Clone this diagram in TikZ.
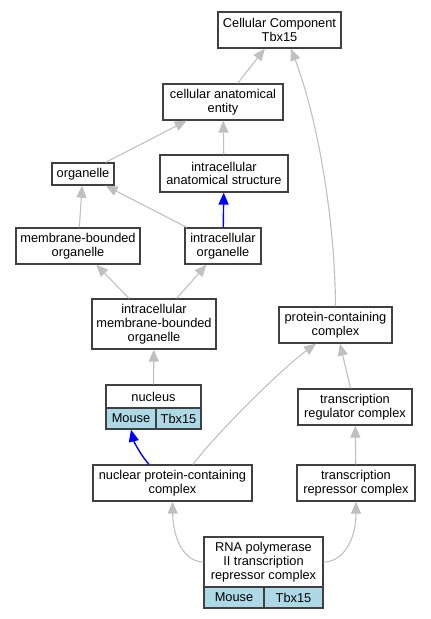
\documentclass[tikz,border=0pt]{standalone}
\usepackage{fontspec}
\setmainfont{Liberation Sans}
\usepackage{xcolor}
\usetikzlibrary{arrows.meta}
\definecolor{lightblue}{HTML}{ADD8E6}
\definecolor{isagray}{HTML}{C0C0C0}

\begin{document}
\begin{tikzpicture}[x=1pt,y=-1pt,
  term/.style={rectangle,draw=black!75,line width=1.3pt,fill=white,inner sep=0pt,align=center,font=\fontsize{12.8}{13.8}\selectfont},
  cell/.style={term,fill=lightblue,minimum height=21pt},
  isa/.style={draw=isagray,line width=1.1pt,-{Triangle[length=12pt,width=10pt]}},
  partof/.style={draw=blue,line width=1.4pt,-{Triangle[length=12pt,width=10pt]}}]
  \useasboundingbox (0,0) rectangle (431,619);

  \node[term,minimum width=123pt,minimum height=36pt] (cc)   at (279.5,30)  {Cellular Component\\Tbx15};
  \node[term,minimum width=120pt,minimum height=36pt] (cae)  at (223,102)   {cellular anatomical\\entity};
  \node[term,minimum width=62pt,minimum height=22pt]  (org)  at (83,174)    {organelle};
  \node[term,minimum width=128pt,minimum height=37pt] (ias)  at (224,173.5) {intracellular\\anatomical structure};
  \node[term,minimum width=124pt,minimum height=36pt] (mbo)  at (78,246)    {membrane-bounded\\organelle};
  \node[term,minimum width=76pt,minimum height=36pt]  (io)   at (223,246)   {intracellular\\organelle};
  \node[term,minimum width=124pt,minimum height=50pt] (imbo) at (154,324)   {intracellular\\membrane-bounded\\organelle};
  \node[term,minimum width=113pt,minimum height=36pt] (pcc)  at (335.5,325) {protein-containing\\complex};
  \node[term,minimum width=95pt,minimum height=23pt]  (nuc)  at (153.5,396.5) {nucleus};
  \node[cell,minimum width=50pt] (nucm) at (131,418.5)   {Mouse};
  \node[cell,minimum width=45pt] (nuct) at (178.5,418.5) {Tbx15};
  \node[term,minimum width=114pt,minimum height=36pt] (trc)  at (355,407)   {transcription\\regulator complex};
  \node[term,minimum width=159pt,minimum height=36pt] (npcc) at (172.5,483) {nuclear protein-containing\\complex};
  \node[term,minimum width=118pt,minimum height=36pt] (trepc) at (356,483)  {transcription\\repressor complex};
  \node[term,minimum width=119pt,minimum height=50pt] (rna)  at (263.5,562) {RNA polymerase\\II transcription\\repressor complex};
  \node[cell,minimum width=60pt] (rnam) at (234,597.5)   {Mouse};
  \node[cell,minimum width=59pt] (rnat) at (293.5,597.5) {Tbx15};

  \path (cae) edge[isa] (cc)
	(org) edge[isa] (cae)
	(ias) edge[isa] (cae)
	(mbo) edge[isa] (org)
	(io) edge[isa] (org)
	(imbo) edge[isa] (mbo)
	(imbo) edge[isa] (io)
	(nuc) edge[isa] (imbo)
	(trc) edge[isa] (pcc)
	(trepc) edge[isa] (trc)
	(io) edge[partof] (ias);

  % curved links
  \draw[isa] (pcc.north) .. controls (335,220) and (318,120) .. ([xshift=11.5pt]cc.south);
  \draw[isa] ([xshift=20.5pt]npcc.north) .. controls (215,435) and (280,370) .. ([xshift=-19.5pt]pcc.south);
  \draw[partof] ([xshift=-23.5pt]npcc.north) .. controls (142,457) and (134,442) .. (nucm.south);
  \draw[isa] (rna.west) .. controls (185,562) and (173,540) .. (npcc.south);
  \draw[isa] (rna.east) .. controls (343,562) and (356,540) .. (trepc.south);
\end{tikzpicture}
\end{document}
